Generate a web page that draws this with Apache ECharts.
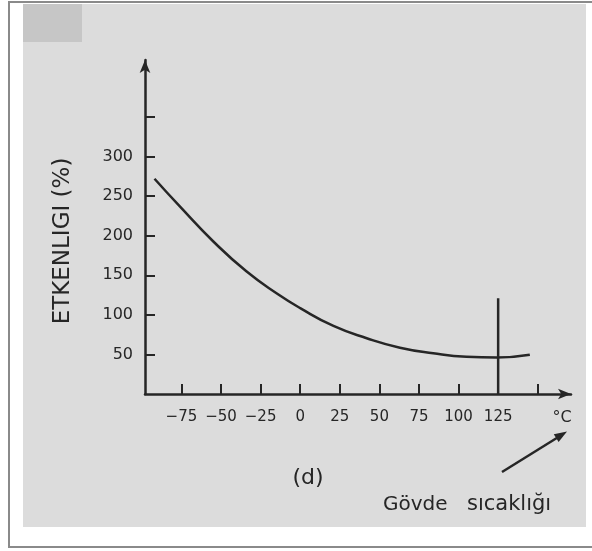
<!DOCTYPE html>
<html><head><meta charset="utf-8">
<script src="https://cdn.jsdelivr.net/npm/echarts@6/dist/echarts.min.js"></script>
<style>html,body{margin:0;padding:0;background:#fff}#c{width:592px;height:551px}</style>
</head><body><div id="c"></div>
<script>
// Data
const temps  = [-92, -76, -55, -34, -14, 0, 21, 42, 63, 84, 105, 124, 145];
const effect = [272, 237, 193, 155, 126, 108.5, 86, 70.5, 58.5, 51.5, 47, 46, 49.5];
const xTickValues  = [-75, -50, -25, 0, 25, 50, 75, 100, 125, 150];
const xLabelValues = [-75, -50, -25, 0, 25, 50, 75, 100, 125];
const yTickValues  = [50, 100, 150, 200, 250, 300, 350];
const yLabelValues = [50, 100, 150, 200, 250, 300];
const markerTemp = 125;
const markerTop = 121;
const yName = 'ETKENLIGI (%)';
const unitText = '°C';
const panelText = '(d)';
const noteWords = ['Gövde', 'sıcaklığı'];

const ink = '#262626';
const font = 'DejaVu Sans';
const chart = echarts.init(document.getElementById('c'));
const curve = temps.map((t, i) => [t, effect[i]]);

chart.setOption({
  backgroundColor: '#ffffff',
  animation: false,
  grid: { left: 145, right: 21, top: 60, bottom: 157 },
  xAxis: {
    type: 'value', min: -98, max: 171,
    splitLine: { show: false },
    axisLine: { onZero: false, lineStyle: { color: ink, width: 2.5 }, symbol: ['none', 'arrow'], symbolSize: [8, 13] },
    axisTick: { inside: true, length: 10, lineStyle: { color: ink, width: 2 }, customValues: xTickValues },
    axisLabel: { customValues: xLabelValues, color: ink, fontFamily: font, fontSize: 15, margin: 16,
      formatter: v => String(v).replace('-', '\u2212') }
  },
  yAxis: {
    type: 'value', min: 0, max: 422,
    splitLine: { show: false },
    axisLine: { onZero: false, lineStyle: { color: ink, width: 2.5 }, symbol: ['none', 'arrow'], symbolSize: [8, 13] },
    axisTick: { inside: true, length: 10, lineStyle: { color: ink, width: 2 }, customValues: yTickValues },
    axisLabel: { customValues: yLabelValues, color: ink, fontFamily: font, fontSize: 16, margin: 12 }
  },
  series: [
    { type: 'line', data: curve, smooth: 0.5, showSymbol: false, symbol: 'none',
      lineStyle: { color: ink, width: 2.5 }, z: 3 },
    { type: 'line', data: [[markerTemp, 0], [markerTemp, markerTop]], showSymbol: false, symbol: 'none',
      lineStyle: { color: ink, width: 2.5 }, z: 3 }
  ],
  graphic: [
    { type: 'rect', z: -20, shape: { x: 9, y: 2, width: 600, height: 545 }, style: { fill: '#ffffff', stroke: '#8a8a8a', lineWidth: 2 } },
    { type: 'rect', z: -19, shape: { x: 23, y: 4, width: 563, height: 523 }, style: { fill: '#dcdcdc' } },
    { type: 'rect', z: -18, shape: { x: 23, y: 4, width: 59, height: 38 }, style: { fill: '#c6c6c6' } },
    { type: 'text', x: 63, y: 241, rotation: Math.PI / 2,
      style: { text: yName, fill: ink, font: '23px "DejaVu Sans"', textAlign: 'center', textVerticalAlign: 'middle' } },
    { type: 'text', x: 562, y: 418,
      style: { text: unitText, fill: ink, font: '16px "DejaVu Sans"', textAlign: 'center', textVerticalAlign: 'middle' } },
    { type: 'text', x: 308, y: 478,
      style: { text: panelText, fill: ink, font: '22px "DejaVu Sans"', textAlign: 'center', textVerticalAlign: 'middle' } },
    { type: 'text', x: 383, y: 505,
      style: { text: noteWords[0], fill: ink, font: '20px "DejaVu Sans"', textAlign: 'left', textVerticalAlign: 'middle' } },
    { type: 'text', x: 467, y: 505,
      style: { text: noteWords[1], fill: ink, font: '21px "DejaVu Sans"', textAlign: 'left', textVerticalAlign: 'middle' } },
    { type: 'line', shape: { x1: 502, y1: 472, x2: 560, y2: 436 }, style: { stroke: ink, lineWidth: 2.5 } },
    { type: 'polygon', shape: { points: [[567, 431.5], [558.6, 442], [553.8, 434.2]] }, style: { fill: ink } }
  ]
});
</script>
</body></html>
